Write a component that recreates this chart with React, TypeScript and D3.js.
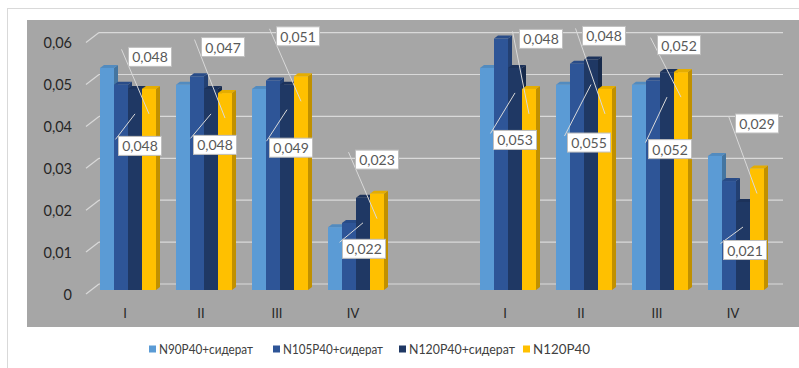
import React from "react";
import * as d3 from "d3";

// ---- data ----
const categories = ["I", "II", "III", "IV", "", "I", "II", "III", "IV"];
const seriesNames = ["N90P40+сидерат", "N105P40+сидерат", "N120P40+сидерат", "N120P40"];
const n90 = [0.053, 0.049, 0.048, 0.015, null, 0.053, 0.049, 0.049, 0.032];
const n105 = [0.049, 0.051, 0.05, 0.016, null, 0.06, 0.054, 0.05, 0.026];
const n120s = [0.048, 0.048, 0.049, 0.022, null, 0.053, 0.055, 0.052, 0.021];
const n120 = [0.048, 0.047, 0.051, 0.023, null, 0.048, 0.048, 0.052, 0.029];
const yTicks = [0, 0.01, 0.02, 0.03, 0.04, 0.05, 0.06];

// ---- layout / style (not data) ----
const colors = ["#5B9BD5", "#2E5597", "#1F3864", "#FFC000"];
// label offsets (box centre relative to bar top-centre) for series 3 (lower) and 4 (upper)
const lowerOff = [[5, 57], [4, 56], [4, 63], [1, 51], null, [0, 72], [-2, 83], [3, 77], [2, 48]];
const upperOff = [[1, -32], [-2, -46], [-3, -40], [0, -34], null, [12, -50], [-1, -53], [-2, -27], [0, -45]];
const legendX = [149, 273, 399, 523];
const legendW = [94, 100, 106, 57];

const W = 799;
const H = 368;
const FONT = "Lato, 'Liberation Sans', Arial, sans-serif";

export default function App() {
  const series = [n90, n105, n120s, n120];
  const x = d3.scaleBand<number>().domain(categories.map((_, i) => i)).range([90, 774]).padding(0);
  const inner = d3.scaleBand<number>().domain([0, 1, 2, 3]).range([10, 66]).padding(0);
  const y = d3.scaleLinear().domain([0, 0.06]).range([290, 38.6]);
  const bw = inner.bandwidth();
  const dx = 4;
  const dy = -3;
  const fmt = (v: number) => d3.format(".3f")(v).replace(".", ",");
  const tickFmt = (v: number) => (v === 0 ? "0" : d3.format(".2f")(v).replace(".", ","));
  const base = y(0);

  const bars: React.ReactNode[] = [];
  categories.forEach((_, i) => {
    series.forEach((s, k) => {
      const v = s[i];
      if (v == null) return;
      const x0 = (x(i) as number) + (inner(k) as number);
      const yt = y(v);
      const c = colors[k];
      const top = d3.color(c)!.darker(0.3).formatHex();
      const side = d3.color(c)!.darker(0.8).formatHex();
      bars.push(
        <g key={`b${i}-${k}`}>
          <polygon
            points={`${x0 + bw},${yt} ${x0 + bw + dx},${yt + dy} ${x0 + bw + dx},${base + dy} ${x0 + bw},${base}`}
            fill={side}
          />
          <polygon
            points={`${x0},${yt} ${x0 + dx},${yt + dy} ${x0 + bw + dx},${yt + dy} ${x0 + bw},${yt}`}
            fill={top}
          />
          <rect x={x0} y={yt} width={bw} height={base - yt} fill={c} />
        </g>
      );
    });
  });

  const bxW = 43;
  const bxH = 19;
  const items: { k: number; i: number; off: number[]; upper: boolean }[] = [];
  categories.forEach((_, i) => {
    if (lowerOff[i]) items.push({ k: 2, i, off: lowerOff[i] as number[], upper: false });
    if (upperOff[i]) items.push({ k: 3, i, off: upperOff[i] as number[], upper: true });
  });

  const geo = items
    .filter((it) => series[it.k][it.i] != null)
    .map((it) => {
      const v = series[it.k][it.i] as number;
      const cx = (x(it.i) as number) + (inner(it.k) as number) + bw / 2;
      const yt = y(v);
      const bcx = cx + it.off[0];
      const bcy = yt + it.off[1];
      const left = bcx - bxW / 2;
      const topY = bcy - bxH / 2;
      return {
        key: `${it.i}-${it.k}`,
        v,
        cx,
        yt,
        bcx,
        bcy,
        sx: it.upper ? left - 7 : left - 3,
        sy: it.upper ? topY + 2 : topY + 3,
      };
    });

  return (
    <svg width={W} height={H} style={{ position: "absolute", left: 0, top: 0, display: "block" }}>
      <rect x={0} y={0} width={W} height={H} fill="#FFFFFF" />
      <rect x={7.5} y={8.5} width={W} height={H} fill="none" stroke="#D9D9D9" />
      <rect x={27} y={20} width={W - 27} height={307} fill="#A6A6A6" />
      {/* grid */}
      {yTicks.map((t) => (
        <g key={`g${t}`}>
          <line x1={86} y1={y(t) + 4} x2={99} y2={y(t) - 6} stroke="#D9D9D9" strokeWidth={1.2} />
          <line x1={99} y1={y(t) - 6} x2={783} y2={y(t) - 6} stroke="#D9D9D9" strokeWidth={1.2} />
          <text x={72} y={y(t) + 4} textAnchor="end" dominantBaseline="central" fontSize={14.5} fill="#262626" fontFamily={FONT}>
            {tickFmt(t)}
          </text>
        </g>
      ))}
      {bars}
      {categories.map((c, i) => (
        <text key={`c${i}`} x={(x(i) as number) + x.bandwidth() / 2 - 3} y={313} textAnchor="middle" dominantBaseline="central" fontSize={13} fill="#262626" fontFamily={FONT}>
          {c}
        </text>
      ))}
      {geo.map((g) => (
        <line key={`l${g.key}`} x1={g.sx} y1={g.sy} x2={g.cx} y2={g.yt + 25} stroke="#D9D9D9" strokeWidth={1} />
      ))}
      {geo.map((g) => (
        <g key={`t${g.key}`}>
          <rect x={g.bcx - bxW / 2} y={g.bcy - bxH / 2} width={bxW} height={bxH} fill="#FFFFFF" stroke="#BFBFBF" strokeWidth={1} />
          <text x={g.bcx} y={g.bcy} textAnchor="middle" dominantBaseline="central" fontSize={14} fill="#595959" fontFamily={FONT}>
            {fmt(g.v)}
          </text>
        </g>
      ))}
      {/* legend */}
      {seriesNames.map((n, k) => (
        <g key={`lg${k}`}>
          <rect x={legendX[k]} y={345.5} width={7} height={7} fill={colors[k]} />
          <text
            x={legendX[k] + 10}
            y={349}
            dominantBaseline="central"
            fontSize={13}
            fill="#404040"
            fontFamily={FONT}
            textLength={legendW[k]}
            lengthAdjust="spacingAndGlyphs"
          >
            {n}
          </text>
        </g>
      ))}
    </svg>
  );
}
